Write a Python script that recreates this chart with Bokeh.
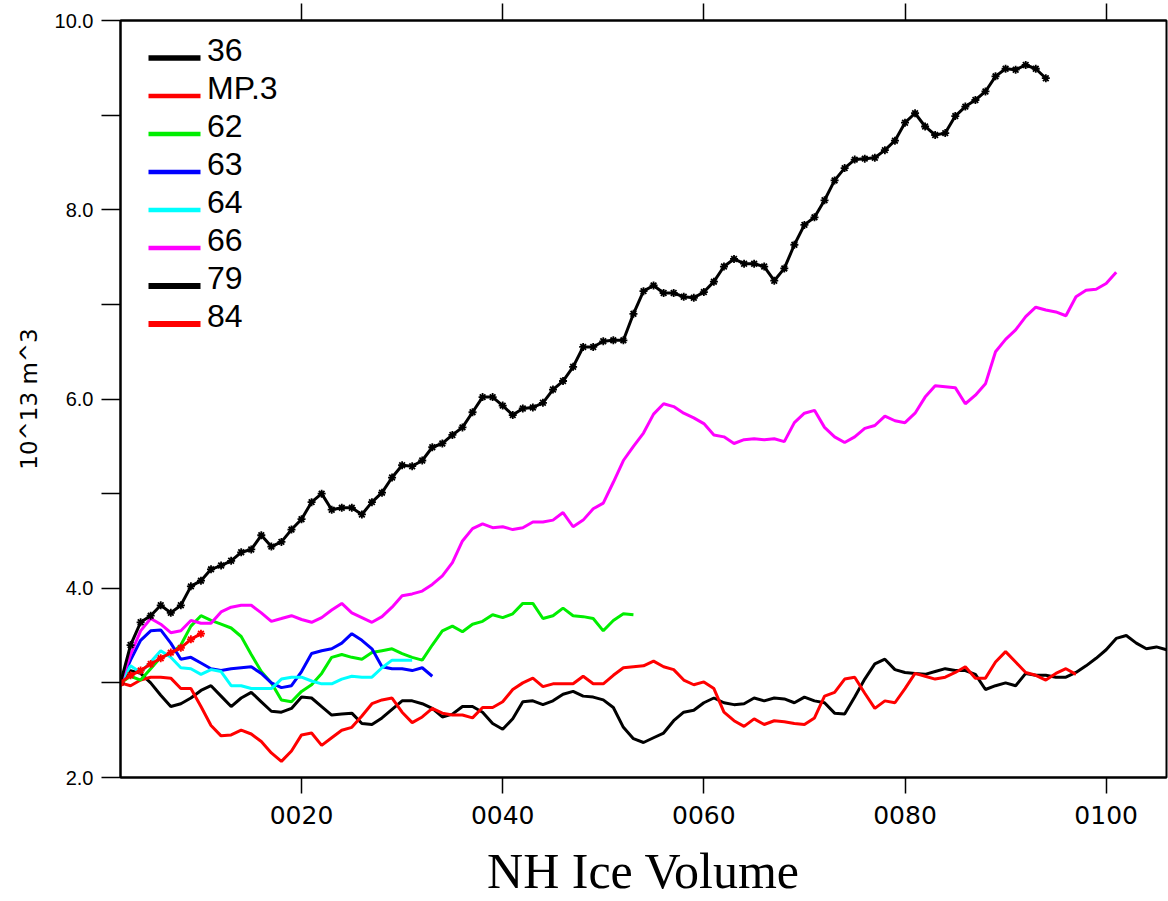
from bokeh.plotting import figure
from bokeh.models import Range1d, FixedTicker, LinearAxis, Legend, LegendItem, BoxAnnotation
from bokeh.embed import file_html
from bokeh.resources import INLINE

# ---------------- data ----------------
series_names = ["36", "MP.3", "62", "63", "64", "66", "79", "84"]
series_colors = ["black", "red", "#00ee00", "blue", "cyan", "magenta", "black", "red"]

years_36 = list(range(2, 107))
vals_36 = [3.0, 3.13, 3.1, 3.0, 2.87, 2.75, 2.78, 2.84, 2.92, 2.97,
           2.86, 2.75, 2.84, 2.9, 2.8, 2.7, 2.69, 2.73, 2.85, 2.84,
           2.75, 2.66, 2.67, 2.68, 2.57, 2.56, 2.63, 2.72, 2.81, 2.81,
           2.78, 2.73, 2.64, 2.67, 2.75, 2.75, 2.69, 2.57, 2.51, 2.62,
           2.8, 2.81, 2.77, 2.81, 2.88, 2.91, 2.86, 2.85, 2.82, 2.74,
           2.53, 2.41, 2.37, 2.42, 2.47, 2.6, 2.69, 2.71, 2.79, 2.84,
           2.79, 2.77, 2.78, 2.84, 2.81, 2.84, 2.83, 2.79, 2.85, 2.81,
           2.79, 2.68, 2.67, 2.85, 3.04, 3.2, 3.25, 3.14, 3.11, 3.1,
           3.09, 3.12, 3.15, 3.13, 3.13, 3.09, 2.93, 2.97, 3.0, 2.97,
           3.1, 3.08, 3.08, 3.06, 3.06, 3.11, 3.18, 3.26, 3.35, 3.47,
           3.5, 3.42, 3.36, 3.38, 3.35]

years_mp3 = list(range(2, 98))
vals_mp3 = [3.0, 2.97, 3.03, 3.06, 3.06, 3.05, 2.94, 2.94, 2.75, 2.55,
            2.44, 2.45, 2.5, 2.46, 2.38, 2.26, 2.17, 2.28, 2.45, 2.47,
            2.34, 2.42, 2.5, 2.53, 2.65, 2.78, 2.82, 2.84, 2.69, 2.58,
            2.64, 2.73, 2.68, 2.66, 2.66, 2.63, 2.74, 2.74, 2.8, 2.93,
            3.0, 3.05, 2.96, 2.99, 2.99, 2.99, 3.07, 2.99, 2.99, 3.08,
            3.16, 3.17, 3.18, 3.23, 3.17, 3.14, 3.03, 2.98, 3.01, 2.94,
            2.69, 2.6, 2.54, 2.62, 2.56, 2.6, 2.59, 2.57, 2.56, 2.63,
            2.86, 2.9, 3.04, 3.06, 2.89, 2.73, 2.81, 2.79, 2.94, 3.1,
            3.07, 3.04, 3.06, 3.11, 3.17, 3.05, 3.05, 3.22, 3.33, 3.22,
            3.11, 3.08, 3.03, 3.1, 3.15, 3.09]

years_62 = list(range(2, 54))
vals_62 = [3.0, 3.07, 3.03, 3.15, 3.27, 3.31, 3.4, 3.6, 3.71, 3.66,
           3.62, 3.58, 3.49, 3.3, 3.12, 3.0, 2.82, 2.8, 2.91, 2.98,
           3.1, 3.27, 3.3, 3.27, 3.25, 3.32, 3.34, 3.36, 3.31, 3.27,
           3.24, 3.4, 3.55, 3.6, 3.54, 3.62, 3.65, 3.72, 3.69, 3.73,
           3.84, 3.84, 3.68, 3.71, 3.79, 3.71, 3.7, 3.68, 3.55, 3.66,
           3.73, 3.72]

years_63 = list(range(2, 34))
vals_63 = [3.0, 3.24, 3.45, 3.55, 3.56, 3.42, 3.25, 3.27, 3.21, 3.15,
           3.13, 3.15, 3.16, 3.17, 3.1, 3.0, 2.95, 2.97, 3.12, 3.31,
           3.34, 3.36, 3.42, 3.52, 3.45, 3.36, 3.17, 3.15, 3.15, 3.13,
           3.16, 3.07]

years_64 = list(range(2, 32))
vals_64 = [3.0, 3.18, 3.11, 3.22, 3.34, 3.27, 3.16, 3.15, 3.09, 3.14,
           3.12, 2.97, 2.97, 2.94, 2.94, 2.94, 3.04, 3.06, 3.06, 3.02,
           2.99, 2.99, 3.04, 3.07, 3.06, 3.06, 3.16, 3.24, 3.24, 3.24]

years_66 = list(range(2, 102))
vals_66 = [3.0, 3.3, 3.55, 3.68, 3.62, 3.53, 3.55, 3.66, 3.63, 3.63,
           3.75, 3.8, 3.82, 3.82, 3.74, 3.65, 3.68, 3.71, 3.67, 3.64,
           3.69, 3.77, 3.84, 3.74, 3.69, 3.64, 3.7, 3.8, 3.92, 3.94,
           3.97, 4.04, 4.13, 4.27, 4.5, 4.63, 4.68, 4.64, 4.65, 4.62,
           4.64, 4.7, 4.7, 4.72, 4.8, 4.65, 4.72, 4.84, 4.9, 5.12,
           5.35, 5.5, 5.64, 5.84, 5.95, 5.92, 5.85, 5.8, 5.74, 5.62,
           5.6, 5.53, 5.57, 5.58, 5.57, 5.58, 5.55, 5.75, 5.85, 5.88,
           5.7, 5.6, 5.54, 5.6, 5.69, 5.72, 5.82, 5.77, 5.75, 5.85,
           6.02, 6.14, 6.13, 6.12, 5.95, 6.04, 6.16, 6.5, 6.63, 6.73,
           6.87, 6.97, 6.94, 6.92, 6.88, 7.08, 7.15, 7.16, 7.22, 7.34]

years_79 = list(range(2, 95))
vals_79 = [3.0, 3.4, 3.64, 3.71, 3.82, 3.74, 3.82, 4.02, 4.08, 4.2,
           4.24, 4.29, 4.38, 4.41, 4.56, 4.44, 4.49, 4.62, 4.73, 4.91,
           5.0, 4.83, 4.85, 4.85, 4.78, 4.91, 5.01, 5.17, 5.3, 5.29,
           5.35, 5.49, 5.53, 5.62, 5.7, 5.86, 6.02, 6.02, 5.93, 5.83,
           5.9, 5.91, 5.96, 6.1, 6.19, 6.34, 6.55, 6.55, 6.61, 6.62,
           6.62, 6.9, 7.14, 7.2, 7.12, 7.12, 7.08, 7.07, 7.13, 7.24,
           7.4, 7.48, 7.43, 7.43, 7.4, 7.25, 7.38, 7.63, 7.84, 7.92,
           8.1, 8.31, 8.44, 8.53, 8.54, 8.55, 8.63, 8.73, 8.92, 9.02,
           8.88, 8.79, 8.81, 8.99, 9.09, 9.16, 9.25, 9.41, 9.49, 9.48,
           9.53, 9.49, 9.39]

years_84 = list(range(2, 11))
vals_84 = [3.0, 3.08, 3.13, 3.2, 3.26, 3.32, 3.37, 3.46, 3.52]

x_ticks = [20, 40, 60, 80, 100]
x_tick_labels = ["0020", "0040", "0060", "0080", "0100"]
y_ticks = [2, 4, 6, 8, 10]
y_minor_ticks = [3, 5, 7, 9]
y_tick_labels = ["2.0", "4.0", "6.0", "8.0", "10.0"]

x_title = "NH Ice Volume"
y_title = "10^13 m^3"

# ---------------- figure ----------------
FRAME_H = 757
p = figure(width=1168, height=901, output_backend="svg", toolbar_location=None,
           x_range=Range1d(2, 106), y_range=Range1d(2, 10),
           min_border_left=120, min_border_right=2, min_border_top=20,
           min_border_bottom=124)
p.grid.visible = False
p.background_fill_color = "white"
p.border_fill_color = "white"
p.outline_line_color = "black"
p.outline_line_width = 2

xa = p.xaxis[0]
xa.ticker = FixedTicker(ticks=x_ticks)
xa.major_label_overrides = {t: l for t, l in zip(x_ticks, x_tick_labels)}
xa.major_tick_out = 16
xa.major_tick_in = 0
xa.minor_tick_out = 0
xa.minor_tick_in = 0
xa.major_tick_line_width = 1.5
xa.axis_line_width = 2
xa.major_label_standoff = 12
xa.major_label_text_font = "DejaVu Sans"
xa.major_label_text_font_size = "25px"
xa.major_label_text_color = "black"
xa.axis_label = x_title
xa.axis_label_text_font = "Liberation Serif"
xa.axis_label_text_font_size = "50px"
xa.axis_label_text_font_style = "normal"
xa.axis_label_text_color = "black"
xa.axis_label_text_line_height = 0.7
xa.axis_label_standoff = 16

ya = p.yaxis[0]
ya.ticker = FixedTicker(ticks=y_ticks, minor_ticks=y_minor_ticks)
ya.major_label_overrides = {t: l for t, l in zip(y_ticks, y_tick_labels)}
ya.major_tick_out = 19
ya.major_tick_in = 0
ya.minor_tick_out = 19
ya.minor_tick_in = 0
ya.major_tick_line_width = 1.5
ya.minor_tick_line_width = 1.5
ya.minor_tick_line_color = "black"
ya.axis_line_width = 2
ya.major_label_standoff = 8
ya.major_label_text_font = "Liberation Sans"
ya.major_label_text_font_size = "20px"
ya.major_label_text_color = "black"
ya.axis_label = y_title
ya.axis_label_text_font = "DejaVu Sans"
ya.axis_label_text_font_size = "23px"
ya.axis_label_text_font_style = "normal"
ya.axis_label_text_color = "black"
ya.axis_label_standoff = 10

top = LinearAxis(ticker=FixedTicker(ticks=x_ticks), major_tick_out=17, major_tick_in=0,
                 minor_tick_out=0, minor_tick_in=0, major_label_text_font_size="1px",
                 major_label_text_color=None, major_label_standoff=0,
                 axis_line_width=2, major_tick_line_width=1.5)
p.add_layout(top, "above")

# ---------------- series ----------------
all_x = [years_36, years_mp3, years_62, years_63, years_64, years_66, years_79, years_84]
all_y = [vals_36, vals_mp3, vals_62, vals_63, vals_64, vals_66, vals_79, vals_84]
markers = [False, False, False, False, False, False, True, True]
swatch_widths = [5.5, 4.5, 4.5, 4.5, 4.5, 4.5, 6, 6]

text_items = []
for i, (name, col, xs, ys, mk, sw) in enumerate(zip(series_names, series_colors, all_x,
                                                    all_y, markers, swatch_widths)):
    p.line(xs, ys, line_color=col, line_width=3)
    if mk:
        p.scatter(xs, ys, marker="asterisk", size=8, line_color=col, line_width=1.8)
    # legend label row (renderer without data: only the text is drawn)
    r_txt = p.line([], [], line_color=col)
    text_items.append(LegendItem(label=name, renderers=[r_txt]))
    # legend swatch, sitting at the foot of its label as in the original
    cy = FRAME_H - (37.5 + 38 * i)   # screen units measured up from the frame bottom
    p.add_layout(BoxAnnotation(left=28, right=80, bottom=cy - sw / 2, top=cy + sw / 2,
                               left_units="screen", right_units="screen",
                               top_units="screen", bottom_units="screen",
                               fill_color=col, fill_alpha=1.0, line_alpha=0))

legend_text = Legend(items=text_items, location=(28, 442), orientation="vertical",
                     background_fill_alpha=0, border_line_alpha=0,
                     padding=0, margin=0, spacing=0, glyph_width=52, glyph_height=38,
                     label_height=38, label_standoff=7, label_text_font="Liberation Sans",
                     label_text_font_size="32px", label_text_color="black")
p.add_layout(legend_text)

open("out.html", "w").write(file_html(p, INLINE))
